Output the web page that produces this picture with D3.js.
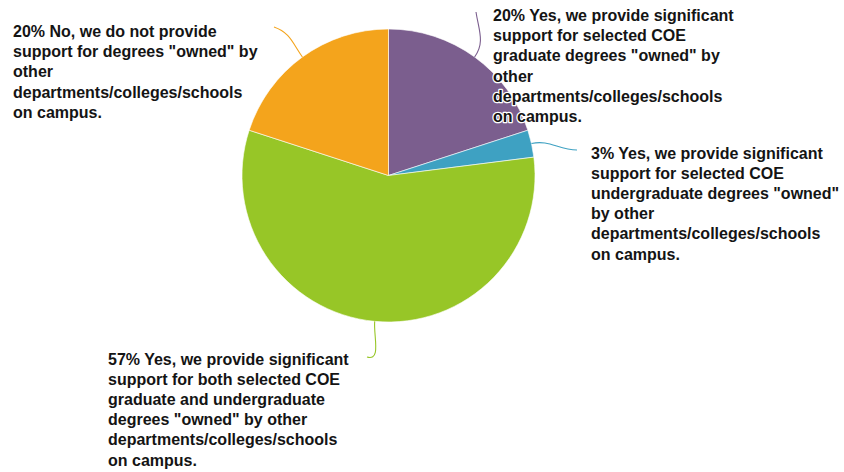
<!DOCTYPE html>
<html><head><meta charset="utf-8">
<script src="https://cdn.jsdelivr.net/npm/d3@7"></script>
<style>
html,body{margin:0;padding:0;background:#fff;}
svg{display:block;}
text{font-family:"Liberation Sans",Arial,sans-serif;font-weight:bold;font-size:16px;fill:#141414;}
</style></head>
<body>
<svg id="chart" width="844" height="472"></svg>
<script>
// Data
const categories = ["graduate", "undergraduate", "both", "none"];
const values = [20, 3, 57, 20];
const percentLabels = ["20%", "3%", "57%", "20%"];
const labelLines = [
  ["20% Yes, we provide significant", "support for selected COE", "graduate degrees \"owned\" by", "other", "departments/colleges/schools", "on campus."],
  ["3% Yes, we provide significant", "support for selected COE", "undergraduate degrees \"owned\"", "by other", "departments/colleges/schools", "on campus."],
  ["57% Yes, we provide significant", "support for both selected COE", "graduate and undergraduate", "degrees \"owned\" by other", "departments/colleges/schools", "on campus."],
  ["20% No, we do not provide", "support for degrees \"owned\" by", "other", "departments/colleges/schools", "on campus."]
];
const colors = ["#7b5e8e", "#3ea1c2", "#97c627", "#f4a41c"];

// Layout
const cx = 388.5, cy = 175.5, R = 146.5;
const labelPos = [
  {x: 493, y: 21, end: [476, 12], endDir: [0.15, 1], halo: true},
  {x: 591, y: 158.5, end: [577, 150], endDir: [-1, 0]},
  {x: 108, y: 364.5, end: [367, 357], endDir: [1, 0.3]},
  {x: 13, y: 37, end: [274, 27], endDir: [1, 0.35]}
];
const lineH = 20.2;

const svg = d3.select("#chart");
const g = svg.append("g").attr("transform", `translate(${cx},${cy})`);
const pie = d3.pie().sort(null).value(d => d);
const arcs = pie(values);
const arc = d3.arc().innerRadius(0).outerRadius(R);

g.selectAll("path.slice").data(arcs).join("path")
  .attr("class", "slice")
  .attr("d", arc)
  .attr("fill", (d, i) => colors[i])
  .attr("stroke", "#fff").attr("stroke-width", 0.6);

// leader lines
arcs.forEach((a, i) => {
  const m = (a.startAngle + a.endAngle) / 2;
  const dx = Math.sin(m), dy = -Math.cos(m);
  const p0 = [cx + R * dx, cy + R * dy];
  const lp = labelPos[i];
  const p3 = lp.end;
  const dist = Math.hypot(p3[0] - p0[0], p3[1] - p0[1]);
  const k = dist * 0.4;
  const p1 = [p0[0] + dx * k, p0[1] + dy * k];
  const p2 = [p3[0] + lp.endDir[0] * k, p3[1] + lp.endDir[1] * k];
  const path = d3.path();
  path.moveTo(p0[0], p0[1]);
  path.bezierCurveTo(p1[0], p1[1], p2[0], p2[1], p3[0], p3[1]);
  svg.append("path").attr("d", path.toString())
    .attr("fill", "none").attr("stroke", colors[i]).attr("stroke-width", 1.1);
});

// labels
labelLines.forEach((lines, i) => {
  const lp = labelPos[i];
  const t = svg.append("text").attr("x", lp.x).attr("y", lp.y);
  if (lp.halo) t.attr("stroke", "#fff").attr("stroke-width", 2.5).attr("paint-order", "stroke").attr("stroke-linejoin", "round");
  lines.forEach((s, j) => {
    t.append("tspan").attr("x", lp.x).attr("dy", j === 0 ? 0 : lineH).text(s);
  });
});
</script>
</body></html>
